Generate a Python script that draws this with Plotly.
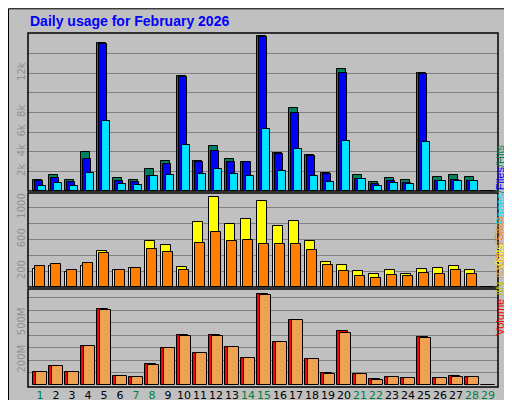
import plotly.graph_objects as go
from plotly.subplots import make_subplots

days = list(range(1, 30))
weekend = [1, 7, 8, 14, 15, 21, 22, 28, 29]

hits = [1160, 1620, 1100, 4020, 15050, 1310, 1100, 2240, 3090, 11720, 3090, 4540, 3270, 2960,
        15770, 3890, 8420, 3680, 1820, 12440, 1620, 900, 1310, 1100, 12030, 1410, 1620, 1410, 0]
files = [1030, 1340, 960, 3270, 14920, 1000, 900, 1520, 2780, 11620, 2990, 4120, 2960, 2960,
         15640, 3780, 7900, 3580, 1720, 12030, 1210, 690, 1000, 790, 11930, 1000, 1100, 1000, 0]
pages = [515, 790, 515, 1820, 7080, 690, 590, 1520, 1620, 4710, 1720, 2240, 1720, 1520,
         6290, 2030, 4300, 1520, 900, 5120, 1210, 480, 790, 690, 5020, 1000, 1000, 1000, 0]

visits = [222, 260, 183, 260, 451, 209, 234, 578, 527, 247, 820, 1126, 795, 859,
          1075, 769, 833, 578, 311, 273, 196, 158, 209, 158, 222, 234, 260, 209, 0]
sites = [260, 285, 209, 298, 425, 209, 234, 476, 438, 209, 553, 693, 578, 591,
         540, 540, 540, 464, 273, 196, 132, 107, 145, 132, 171, 158, 209, 158, 0]

volume = [102, 156, 108, 318, 608, 76, 68, 173, 302, 406, 261, 406, 310, 221,
          729, 350, 527, 213, 100, 431, 92, 52, 68, 60, 390, 60, 76, 68, 0]
vol_out = [102, 156, 108, 318, 600, 76, 68, 165, 302, 398, 261, 398, 310, 221,
           721, 350, 527, 213, 92, 422, 92, 44, 68, 60, 382, 60, 68, 68, 0]

tick_text = ['<span style="color:%s">%d</span>' % ('#008040' if d in weekend else 'black', d) for d in days]

fig = make_subplots(rows=3, cols=1, shared_xaxes=True)

def bar(y, color, off, w, row):
    fig.add_trace(go.Bar(x=days, y=y, offset=off, width=w, marker_color=color,
                         marker_line=dict(color='black', width=1)), row=row, col=1)

bar(hits, '#00805F', -0.44, 0.55, 1)
bar(files, '#0000FF', -0.31, 0.5, 1)
bar(pages, '#00E0FF', -0.14, 0.5, 1)
bar(visits, '#FFFF00', -0.44, 0.62, 2)
bar(sites, '#FF8000', -0.3, 0.62, 2)
bar(volume, '#FF0000', -0.44, 0.72, 3)
bar(vol_out, '#EFA050', -0.27, 0.72, 3)

xr = [0.25, 29.63]
fig.update_xaxes(range=xr, domain=[20/512, 490/512], showgrid=False, zeroline=False,
                 ticks='', showticklabels=False)
fig.update_xaxes(showticklabels=True, tickvals=days, ticktext=tick_text, tickangle=0,
                 tickfont=dict(size=11, family='DejaVu Sans'), row=3, col=1)
ax = dict(gridcolor='#808080', zeroline=False, ticks='', tickangle=-90,
          tickfont=dict(size=10, color='#909090', family='DejaVu Sans'))
fig.update_yaxes(range=[0, 16080], domain=[1-183/400, 1-25/400], tickvals=list(range(2000, 16000, 2000)),
                 ticktext=['2k', '4k', '6k', '8k', '', '12k', ''], row=1, col=1, **ax)
fig.update_yaxes(range=[0, 1181], domain=[1-279/400, 1-185/400], tickvals=[200, 400, 600, 800, 1000],
                 ticktext=['200', '', '600', '', '1000'], row=2, col=1, **ax)
fig.update_yaxes(range=[-15, 772], domain=[1-379/400, 1-281/400], tickvals=list(range(100, 800, 100)),
                 ticktext=['', '200M', '', '', '500M', '', ''], row=3, col=1, **ax)

shapes = [dict(type='rect', xref='paper', yref='paper', x0=20/512, x1=490/512, y0=y0, y1=y1,
               line=dict(color='black', width=1.5)) for y0, y1 in
          [(1-183/400, 1-25/400), (1-279/400, 1-185/400), (1-379/400, 1-281/400)]]
shapes.append(dict(type='rect', xref='paper', yref='paper', x0=0.001, x1=0.999, y0=0.002, y1=0.998,
                   line=dict(color='black', width=1)))
shapes.append(dict(type='line', xref='paper', yref='paper', x0=0.99, x1=0.99, y0=0.01, y1=0.99,
                   line=dict(color='#808080', width=5)))
shapes.append(dict(type='line', xref='paper', yref='paper', x0=0.01, x1=0.99, y0=0.01, y1=0.01,
                   line=dict(color='#808080', width=5)))

annots = [
    dict(text='<b>Daily usage for February 2026</b>', x=20/512, y=1-13/400, xanchor='left', yanchor='middle',
         font=dict(size=14, color='#0000FF', family='Liberation Sans')),
    dict(text='<span style="color:#00E0FF">Pages</span><span style="color:#00805F">/</span>'
              '<span style="color:#0000FF">Files</span><span style="color:#00805F">/Hits_</span>',
         x=499/512, y=1-128/400, textangle=-90, font=dict(size=11, family='Liberation Sans')),
    dict(text='<span style="color:#FFFF00">Visits</span><span style="color:#FF8000">/Sites</span>',
         x=499/512, y=1-235/400, textangle=-90, font=dict(size=11, family='Liberation Sans')),
    dict(text='<span style="color:#FF0000">Volume</span><span style="color:#C0C000"> /IN</span>'
              '<span style="color:#EFA050"> /OUT</span>',
         x=499/512, y=1-330/400, textangle=-90, font=dict(size=11, family='Liberation Sans')),
]
for a in annots:
    a.update(xref='paper', yref='paper', showarrow=False)

fig.update_layout(width=512, height=400, margin=dict(l=0, r=0, t=0, b=0), barmode='overlay',
                  showlegend=False, paper_bgcolor='#C0C0C0', plot_bgcolor='#C0C0C0',
                  shapes=shapes, annotations=annots, bargap=0)
fig.write_html("out.html")
